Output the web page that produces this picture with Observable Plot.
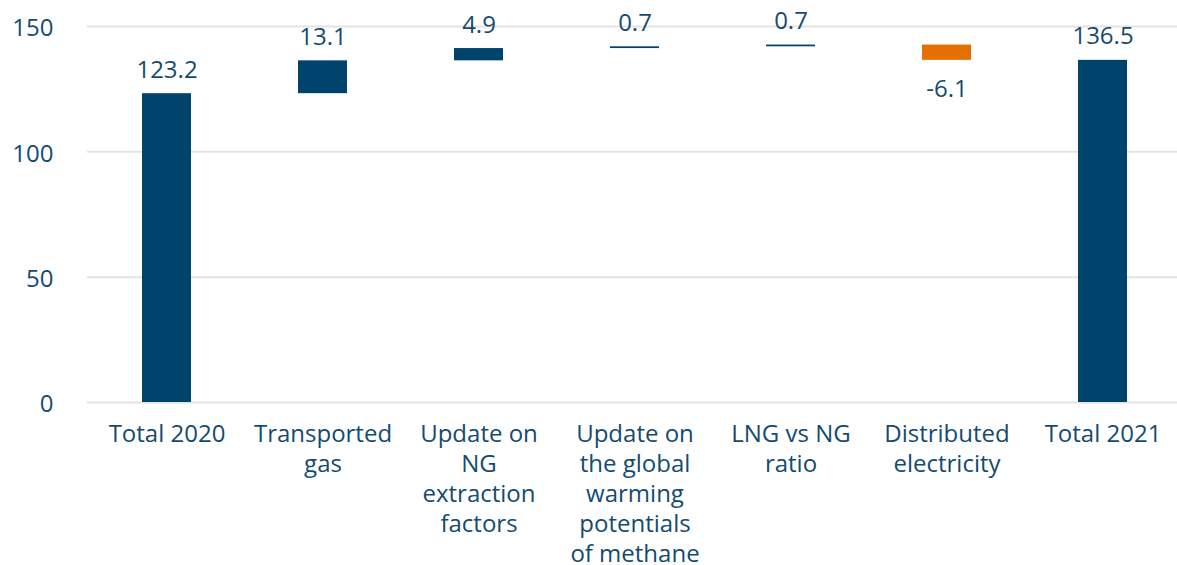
<!DOCTYPE html>
<html><head><meta charset="utf-8">
<script src="https://cdn.jsdelivr.net/npm/d3@7"></script>
<script src="https://cdn.jsdelivr.net/npm/@observablehq/plot@0.6"></script>
<style>body{margin:0;background:#fff;}</style>
</head><body><div id="chart"></div>
<script>
const categories = ["Total 2020","Transported gas","Update on NG extraction factors","Update on the global warming potentials of methane","LNG vs NG ratio","Distributed electricity","Total 2021"];
const labels = ["Total 2020","Transported\ngas","Update on\nNG\nextraction\nfactors","Update on\nthe global\nwarming\npotentials\nof methane","LNG vs NG\nratio","Distributed\nelectricity","Total 2021"];
const values = [123.2, 13.1, 4.9, 0.7, 0.7, -6.1, 136.5];
const isTotal = [true,false,false,false,false,false,true];
const yTicks = [0,50,100,150];

let run = 0;
const rows = categories.map((c,i)=>{
  let y1,y2;
  if (isTotal[i]) { y1 = 0; y2 = values[i]; run = values[i]; }
  else { y1 = run; y2 = run + values[i]; run = y2; }
  return {cat:c, value:values[i], y1, y2, neg: values[i] < 0};
});
const pos = rows.filter(d => !d.neg), neg = rows.filter(d => d.neg);
const ink = "#144b72";

const chart = Plot.plot({
  width:1177, height:565,
  marginLeft:87, marginRight:0, marginTop:26, marginBottom:163,
  style:{fontFamily:"Open Sans", fontSize:"24px", color:ink, background:"#fff"},
  x:{domain:categories, range:[87,1182], paddingInner:0.687, paddingOuter:0.3435, label:null},
  y:{domain:[0,150], label:null},
  marks:[
    Plot.gridY(yTicks, {stroke:"#e3e3e3", strokeOpacity:1, strokeWidth:2}),
    Plot.axisY(yTicks, {tickSize:0, tickPadding:34, label:null, fontSize:24, dy:2}),
    Plot.axisX({tickSize:0, tickPadding:18, label:null, fontSize:24, lineHeight:1.25,
      tickFormat: d => labels[categories.indexOf(d)]}),
    Plot.barY(pos, {x:"cat", y1:"y1", y2:"y2", fill:"#00446e"}),
    Plot.barY(neg, {x:"cat", y1:"y1", y2:"y2", fill:"#e37000"}),
    Plot.text(pos, {x:"cat", y:"y2", text:d => d.value.toFixed(1), lineAnchor:"bottom", dy:-16, fontSize:24, fill:ink}),
    Plot.text(neg, {x:"cat", y:"y2", text:d => d.value.toFixed(1), lineAnchor:"top", dy:20, fontSize:24, fill:ink})
  ]
});
document.getElementById("chart").append(chart);
</script>
</body></html>
